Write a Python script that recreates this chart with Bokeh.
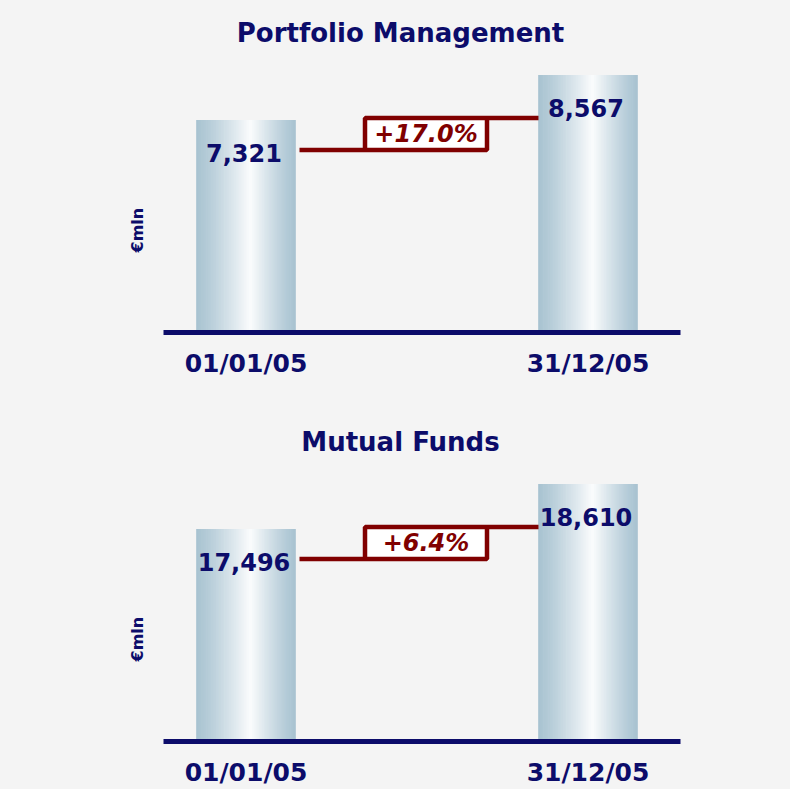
import numpy as np
from bokeh.plotting import figure
from bokeh.models import Range1d, FixedTicker, Label, ColumnDataSource, Title
from bokeh.layouts import column
from bokeh.embed import file_html
from bokeh.resources import INLINE
from bokeh.core.properties import value

# ---------------- data ----------------
dates = ["01/01/05", "31/12/05"]
pm_values = [7321, 8567]
mf_values = [17496, 18610]
titles = ["Portfolio Management", "Mutual Funds"]
unit_label = "€mln"

# ---------------- style ----------------
NAVY = "#0c0c6a"
RED = "#800000"
BG = "#f4f4f4"
FONT = "DejaVu Sans"
EDGE = np.array([168, 195, 209])
WHITE = np.array([251, 252, 253])

FRAME_W = 517
FRAME_H = 323
X_START, X_END = -0.2412, 1.2705
BAR_W = 0.2895
N_STRIPS = 60


def fmt(v):
    return f"{v:,}"


def make_chart(title, values, y_bounds, min_top, min_bottom):
    xs = list(range(len(values)))
    y0, y1 = y_bounds
    k = FRAME_H / (y1 - y0)            # px per data unit
    px_x = FRAME_W / (X_END - X_START)  # px per x unit

    p = figure(frame_width=FRAME_W, frame_height=FRAME_H,
               x_range=Range1d(X_START, X_END), y_range=Range1d(y0, y1),
               output_backend="svg", toolbar_location=None,
               min_border_left=163, min_border_right=110,
               min_border_top=min_top, min_border_bottom=min_bottom,
               background_fill_color=BG, border_fill_color=BG,
               outline_line_color=None)
    p.grid.visible = False
    p.yaxis.visible = False

    # gradient bars built from thin strips
    sx, stop, sbot, scol = [], [], [], []
    peak = 0.55
    for xi, v in zip(xs, values):
        for i in range(N_STRIPS):
            t = (i + 0.5) / N_STRIPS
            s = t / peak if t < peak else (1 - t) / (1 - peak)
            s = s ** 1.2
            c = EDGE + (WHITE - EDGE) * s
            sx.append(xi - BAR_W / 2 + t * BAR_W)
            stop.append(v)
            sbot.append(y0)
            scol.append("#%02x%02x%02x" % tuple(int(round(a)) for a in c))
    src = ColumnDataSource(dict(x=sx, top=stop, bottom=sbot, color=scol))
    p.vbar(x="x", top="top", bottom="bottom", width=BAR_W / N_STRIPS * 1.4,
           fill_color="color", line_color=None, source=src)

    # value labels
    p.text(x=xs, y=values, text=[fmt(v) for v in values],
           text_font=value(FONT), text_font_style="bold", text_font_size="24px",
           text_color=NAVY, text_align="center", text_baseline="middle",
           x_offset=-2, y_offset=33)

    # connector + change box
    lvl1 = values[0] - 30 / k
    lvl2 = values[1] - 43 / k
    box_l, box_r = 0.348, 0.7047
    gap = 4 / px_x
    p.segment(x0=[xs[0] + BAR_W / 2 + gap, box_r], y0=[lvl1, lvl2],
              x1=[box_l, xs[1] - BAR_W / 2], y1=[lvl1, lvl2],
              line_color=RED, line_width=4.5)
    p.quad(left=[box_l], right=[box_r], top=[lvl2], bottom=[lvl1],
           fill_color="white", line_color=RED, line_width=4.5)
    change = (values[1] / values[0] - 1) * 100
    p.text(x=[(box_l + box_r) / 2], y=[(lvl1 + lvl2) / 2], text=[f"{change:+.1f}%"],
           text_font=value(FONT), text_font_style="bold italic", text_font_size="24px",
           text_color=RED, text_align="center", text_baseline="middle")

    # x axis
    ax = p.xaxis[0]
    ax.ticker = FixedTicker(ticks=xs)
    ax.major_label_overrides = {x: d for x, d in zip(xs, dates)}
    ax.axis_line_width = 5
    ax.axis_line_color = NAVY
    ax.major_tick_line_color = None
    ax.minor_tick_line_color = None
    ax.major_tick_out = 0
    ax.major_tick_in = 0
    ax.major_label_standoff = 16
    ax.major_label_text_font = FONT
    ax.major_label_text_font_style = "bold"
    ax.major_label_text_font_size = "25px"
    ax.major_label_text_color = NAVY

    # chart title (inside frame) and unit label (left side panel)
    p.add_layout(Label(x=237, y=300, x_units="screen", y_units="screen", text=title,
                       text_font=FONT, text_font_style="bold", text_font_size="26px",
                       text_color=NAVY, text_align="center", text_baseline="middle"))
    p.add_layout(Title(text=unit_label, align="left", offset=80, standoff=33,
                       text_font=FONT, text_font_style="bold", text_font_size="16px",
                       text_color=NAVY), "left")
    return p


p1 = make_chart(titles[0], pm_values, (1440, 10380), 9, 82)
p2 = make_chart(titles[1], mf_values, (12235, 20230), 4, 47)

layout = column(p1, p2, spacing=0, styles={"background-color": BG})
open("out.html", "w").write(file_html(layout, INLINE))
